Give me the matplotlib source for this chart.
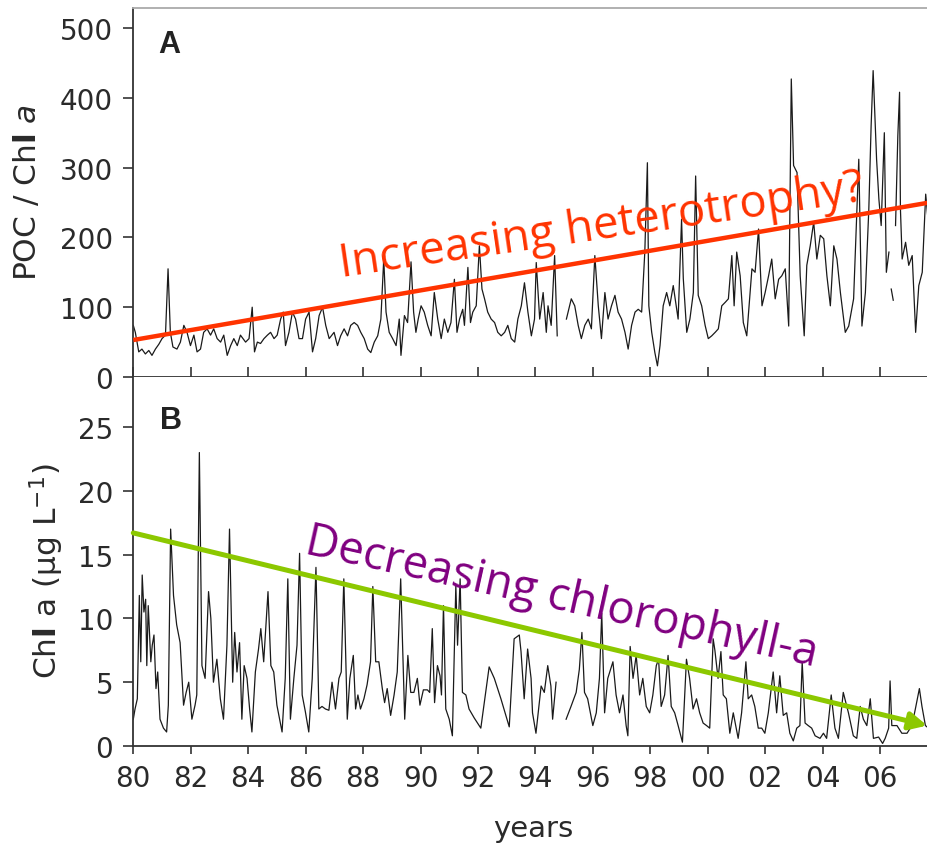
import numpy as np
import matplotlib
matplotlib.use("Agg")
import matplotlib.pyplot as plt

plt.rcParams['font.family'] = ['DejaVu Sans']
plt.rcParams['mathtext.fontset'] = 'dejavusans'

BASE_YEAR = 1980
X_MAX = 2007.70

# ---- Panel A: POC / Chl a (years since 1980, value) ----
poc_t = [0.00, 0.07, 0.19, 0.30, 0.42, 0.54, 0.65, 0.77, 0.89, 1.00, 1.12, 1.21, 1.29, 1.38, 1.52, 1.64, 1.76, 1.87, 1.99,
         2.11, 2.22, 2.34, 2.45, 2.57, 2.69, 2.80, 2.92, 3.04, 3.15, 3.27, 3.39, 3.50, 3.62, 3.73, 3.91, 4.03, 4.14, 4.22,
         4.32, 4.43, 4.55, 4.67, 4.78, 4.90, 5.01, 5.13, 5.22, 5.30, 5.42, 5.54, 5.65, 5.77, 5.89, 6.00, 6.12, 6.24, 6.35,
         6.47, 6.59, 6.70, 6.82, 6.99, 7.11, 7.22, 7.34, 7.46, 7.57, 7.69, 7.81, 7.92, 8.04, 8.16, 8.27, 8.39, 8.51, 8.62,
         8.72, 8.80, 8.91, 9.03, 9.15, 9.26, 9.32, 9.44, 9.55, 9.67, 9.76, 9.84, 9.92, 10.02, 10.13, 10.25, 10.37, 10.48,
         10.60, 10.72, 10.83, 10.95, 11.06, 11.18, 11.27, 11.36, 11.47, 11.53, 11.65, 11.74, 11.82, 11.94, 12.05, 12.14,
         12.23, 12.34, 12.46, 12.58, 12.69, 12.81, 12.93, 13.04, 13.16, 13.28, 13.39, 13.51, 13.62, 13.74, 13.86, 13.97,
         14.03, 14.15, 14.27, 14.38, 14.44, 14.55, 14.67, 14.76, 14.90, 15.08, 15.25, 15.37, 15.49, 15.60, 15.72, 15.84,
         15.95, 16.07, 16.19, 16.30, 16.42, 16.53, 16.65, 16.77, 16.88, 17.00, 17.12, 17.23, 17.35, 17.47, 17.58, 17.70,
         17.81, 17.90, 17.95, 18.05, 18.16, 18.25, 18.34, 18.45, 18.57, 18.68, 18.80, 18.97, 19.09, 19.15, 19.27, 19.38,
         19.50, 19.58, 19.67, 19.79, 19.91, 20.02, 20.14, 20.26, 20.37, 20.49, 20.61, 20.72, 20.84, 20.92, 21.01, 21.13,
         21.24, 21.36, 21.54, 21.65, 21.77, 21.89, 22.00, 22.12, 22.23, 22.35, 22.47, 22.58, 22.70, 22.82, 22.91, 22.99,
         23.11, 23.22, 23.36, 23.45, 23.57, 23.69, 23.80, 23.92, 24.04, 24.15, 24.27, 24.39, 24.50, 24.62, 24.79, 24.91,
         25.08, 25.26, 25.37, 25.49, 25.61, 25.69, 25.76, 25.88, 25.96, 26.04, 26.15, 26.22, 26.31, 26.35, 26.39, 26.46,
         26.50, 26.54, 26.62, 26.68, 26.71, 26.77, 26.89, 27.00, 27.12, 27.24, 27.35, 27.47, 27.59, 27.71]
poc_v = [74, 64, 36, 40, 33, 38, 31, 40, 47, 55, 60, 155, 64, 43, 40, 50, 74, 64, 45,
         60, 36, 40, 64, 69, 60, 69, 55, 50, 60, 31, 45, 55, 45, 60, 50, 55, 100, 36,
         50, 48, 55, 60, 64, 55, 60, 83, 93, 45, 64, 93, 83, 55, 55, 83, 93, 36, 55,
         88, 100, 74, 55, 64, 45, 59, 69, 59, 74, 78, 74, 64, 55, 40, 35, 50, 59, 83,
         169, 93, 64, 55, 45, 83, 31, 88, 78, 165, 93, 64, 83, 102, 93, 74, 59, 121,
         83, 55, 83, 64, 78, 140, 64, 83, 97, 74, 157, 78, 93, 102, 188, 126,
         112, 93, 83, 78, 64, 59, 64, 74, 55, 50, 83, 102, 135, 93, 59, 83,
         164, 83, 121, 64, 102, 74, 174, 59, np.nan, 83, 112, 102, 74, 55, 74, 83,
         69, 174, 102, 55, 121, 83, 102, 117, 93, 83, 64, 40, 74, 93, 97, 93,
         179, 307, 102, 64, 35, 16, 45, 102, 121, 102, 131, 83, 226, 141, 64, 83,
         121, 288, 117, 102, 74, 55, 59, 64, 69, 102, 107, 112, 174, 102, 179, 145,
         78, 59, 155, 150, 212, 102, 121, 145, 169, 112, 140, 145, 155, 73, 427, 303,
         293, 145, 59, 160, 188, 222, 169, 203, 198, 145, 102, 188, 169, 121, 64, 73,
         112, 312, 73, 121, 241, 360, 439, 312, 255, 217, 350, 150, 179, np.nan, 126, 110,
         np.nan, 217, 346, 408, 241, 169, 193, 160, 174, 64, 131, 150, 262, 208]

# ---- Panel B: Chl a (years since 1980, ug/L) ----
chl_t = [0.00, 0.06, 0.14, 0.21, 0.26, 0.31, 0.37, 0.43, 0.47, 0.52, 0.61, 0.66, 0.72, 0.79, 0.85, 0.93, 1.05, 1.16,
         1.22, 1.30, 1.40, 1.51, 1.63, 1.75, 1.84, 1.93, 2.04, 2.15, 2.21, 2.30, 2.39, 2.50, 2.62, 2.70, 2.79, 2.91,
         3.03, 3.14, 3.26, 3.35, 3.46, 3.53, 3.61, 3.70, 3.78, 3.86, 3.96, 4.05, 4.13, 4.25, 4.36, 4.44, 4.54, 4.69,
         4.79, 4.89, 5.00, 5.18, 5.29, 5.38, 5.47, 5.59, 5.70, 5.79, 5.88, 5.99, 6.11, 6.23, 6.36, 6.46, 6.57, 6.69,
         6.81, 6.92, 7.04, 7.16, 7.24, 7.33, 7.45, 7.54, 7.66, 7.74, 7.82, 7.91, 8.03, 8.14, 8.26, 8.34, 8.44, 8.55,
         8.67, 8.75, 8.84, 8.96, 9.08, 9.19, 9.31, 9.45, 9.56, 9.66, 9.77, 9.89, 9.98, 10.10, 10.24, 10.32, 10.41,
         10.49, 10.59, 10.68, 10.73, 10.80, 10.88, 11.00, 11.11, 11.23, 11.29, 11.38, 11.46, 11.58, 11.69, 11.87,
         12.10, 12.39, 12.57, 12.80, 13.09, 13.26, 13.44, 13.50, 13.61, 13.73, 13.85, 13.90, 14.02, 14.20, 14.31,
         14.43, 14.54, 14.60, 14.72, 14.90, 15.07, 15.24, 15.42, 15.53, 15.62, 15.71, 15.82, 16.00, 16.12, 16.23,
         16.31, 16.41, 16.52, 16.70, 16.81, 16.93, 17.05, 17.16, 17.22, 17.30, 17.40, 17.51, 17.63, 17.74, 17.86,
         17.98, 18.09, 18.21, 18.29, 18.38, 18.50, 18.62, 18.73, 18.85, 18.97, 19.12, 19.26, 19.37, 19.49, 19.61,
         19.72, 19.84, 19.96, 20.07, 20.19, 20.25, 20.36, 20.46, 20.54, 20.65, 20.77, 20.89, 21.06, 21.18, 21.33,
         21.41, 21.53, 21.64, 21.76, 21.88, 21.99, 22.11, 22.28, 22.40, 22.51, 22.63, 22.75, 22.86, 22.98, 23.10,
         23.21, 23.29, 23.39, 23.50, 23.62, 23.74, 23.91, 24.03, 24.14, 24.30, 24.43, 24.55, 24.72, 24.90, 25.07,
         25.19, 25.31, 25.42, 25.54, 25.66, 25.77, 25.95, 26.09, 26.18, 26.30, 26.35, 26.41, 26.59, 26.76, 26.94,
         27.11, 27.23, 27.37, 27.46, 27.58, 27.69]
chl_v = [2.1, 2.9, 3.7, 11.8, 6.6, 13.4, 10.5, 11.5, 6.3, 11.0, 6.6, 7.9, 8.7, 4.5, 5.8, 2.1, 1.4, 1.1,
         3.2, 17.0, 11.8, 9.5, 8.1, 3.2, 4.2, 5.0, 2.1, 3.2, 4.0, 23.0, 6.3, 5.3, 12.1, 10.0, 5.0, 6.8,
         3.7, 2.1, 7.9, 17.0, 5.0, 8.9, 5.8, 8.1, 2.1, 6.3, 5.3, 2.9, 1.1, 5.8, 7.6, 9.2, 6.6, 12.1,
         6.3, 5.8, 3.2, 1.1, 5.3, 13.1, 2.1, 5.3, 7.9, 15.1, 4.0, 2.7, 1.1, 5.3, 14.0, 2.9, 3.1, 2.9,
         2.8, 5.0, 2.9, 5.3, 5.8, 13.1, 2.1, 5.3, 7.1, 2.9, 4.0, 2.9, 3.7, 4.8, 6.6, 12.5, 6.6, 6.6,
         4.5, 3.4, 4.5, 2.4, 4.0, 5.8, 13.1, 2.1, 7.1, 4.2, 4.2, 5.3, 3.2, 4.4, 4.4, 4.2, 9.2,
         3.4, 6.3, 5.5, 4.0, 11.0, 2.9, 2.1, 0.8, 12.6, 7.9, 13.1, 4.2, 4.0, 2.9, 2.2,
         1.4, 6.2, 5.3, 3.7, 1.5, 8.4, 8.7, 7.4, 3.7, 7.6, 5.3, 2.6, 1.0, 4.7, 4.2,
         6.3, 4.7, 2.1, 5.0, np.nan, 2.1, 3.1, 4.2, 6.0, 8.9, 4.2, 3.7, 1.6, 2.6, 5.3,
         10.4, 2.6, 5.3, 6.6, 4.0, 2.6, 4.0, 1.6, 0.8, 7.8, 5.3, 7.1, 4.0, 5.3, 3.1,
         2.6, 4.0, 6.3, 6.8, 3.1, 4.0, 7.1, 3.1, 2.6, 1.6, 0.3, 6.8, 5.3, 2.9, 3.7,
         2.6, 1.8, 1.6, 1.4, 8.4, 7.5, 5.3, 7.4, 4.0, 3.7, 1.0, 2.6, 0.6, 2.6, 6.6,
         3.7, 4.0, 3.1, 1.4, 1.4, 1.0, 2.6, 5.8, 2.6, 5.5, 2.4, 2.6, 1.0, 0.4, 1.4,
         1.6, 6.6, 1.8, 1.6, 1.4, 0.8, 0.6, 1.0, 0.6, 4.0, 1.4, 0.6, 4.2, 2.6, 0.8,
         0.6, 3.1, 2.1, 1.6, 3.7, 0.6, 0.7, 0.2, 0.6, 1.4, 5.1, 1.6, 1.6, 1.0, 1.0,
         1.6, 2.9, 4.5, 3.1, 1.6, 1.4]

# trend annotations (start/end values)
poc_trend_years = [1980.0, 2008.0]
poc_trend_vals = [53, 252]
chl_trend_start = (1980.0, 16.7)
chl_trend_end = (2007.64, 1.6)

yticks_a = [0, 100, 200, 300, 400, 500]
yticks_b = [0, 5, 10, 15, 20, 25]
xtick_years = list(range(1980, 2007, 2))
xtick_labels = ["%02d" % (y % 100) for y in xtick_years]

W, H = 927, 845
fig = plt.figure(figsize=(W / 100, H / 100), dpi=100)

left = 133.3 / W
width = 1.0 - left + 0.002
axA = fig.add_axes([left, (H - 378) / H, width, 369 / H])
axB = fig.add_axes([left, (H - 747) / H, width, 369 / H])

line_kw = dict(color='#1a1a1a', lw=0.9)
tA = [BASE_YEAR + t for t in poc_t]
tB = [BASE_YEAR + t for t in chl_t]
axA.plot(tA, poc_v, **line_kw)
axB.plot(tB, chl_v, **line_kw)

red = '#ff3300'
green = '#8cc800'
purple = '#800080'

axA.plot(poc_trend_years, poc_trend_vals, color=red, lw=3.2, solid_capstyle='butt', zorder=5)
axB.annotate('', xy=chl_trend_end, xytext=chl_trend_start,
             arrowprops=dict(arrowstyle='-|>', color=green, lw=3.6, mutation_scale=26,
                             shrinkA=0, shrinkB=0), zorder=5)

tick_size = 20
for ax in (axA, axB):
    ax.set_xlim(BASE_YEAR, X_MAX)
    ax.spines['right'].set_visible(False)
    ax.spines['left'].set_linewidth(1.3)
    ax.spines['bottom'].set_linewidth(1.3)
    ax.spines['left'].set_color('#333333')
    ax.spines['bottom'].set_color('#333333')
    ax.set_xticks(xtick_years)
    ax.tick_params(axis='y', direction='out', length=7.5, width=1.2, pad=7, colors='#333333',
                   labelcolor='#2a2a2a', labelsize=tick_size)

axA.set_ylim(0, 528.7)
axA.set_yticks(yticks_a)
axA.tick_params(axis='x', direction='in', length=7.5, width=1.2, labelbottom=False, colors='#333333')
axA.spines['top'].set_color('#aaaaaa')
axA.spines['top'].set_linewidth(1.3)

axB.set_ylim(0, 28.92)
axB.set_yticks(yticks_b)
axB.spines['top'].set_visible(False)
axB.set_xticklabels(xtick_labels)
axB.tick_params(axis='x', direction='out', length=6, width=1.2, pad=7, labelsize=tick_size,
                colors='#333333', labelcolor='#2a2a2a')

# panel letters
fig.text(158 / W, 1 - 53 / H, 'A', fontsize=22, fontweight='bold', color='#222222', va='baseline',
         family=['Liberation Sans', 'DejaVu Sans'])
fig.text(160 / W, 1 - 429 / H, 'B', fontsize=22, fontweight='bold', color='#222222', va='baseline',
         family=['Liberation Sans', 'DejaVu Sans'])

# axis labels
fig.text(27 / W, 1 - 192 / H, r'POC / Ch$\mathbf{l}$ $\mathit{a}$', rotation=90, ha='center', va='center',
         fontsize=22.5, color='#2a2a2a')
fig.text(47 / W, 1 - 571 / H, r'Ch$\mathbf{l}$ a (µg L$^{-1}$)', rotation=90, ha='center',
         va='center', fontsize=22.5, color='#2a2a2a')
fig.text(533 / W, 1 - 837 / H, 'years', ha='center', va='baseline', fontsize=21, color='#2a2a2a')

# annotations
fig.text(341 / W, 1 - 277 / H, 'Increasing heterotrophy?', family=['Open Sans', 'DejaVu Sans'],
         fontsize=32.7, color=red, rotation=8.3, rotation_mode='anchor', ha='left', va='baseline', zorder=6)
fig.text(303 / W, 1 - 553 / H, 'Decreasing chlorophyll-a', family=['Open Sans', 'DejaVu Sans'],
         fontsize=32.8, color=purple, rotation=-12.5, rotation_mode='anchor', ha='left', va='baseline', zorder=6)

fig.savefig('out.png', dpi=100)
